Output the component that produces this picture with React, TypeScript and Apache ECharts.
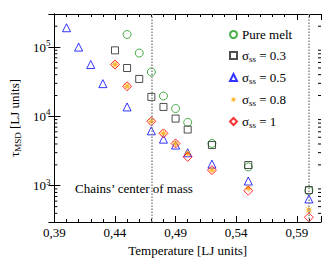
import React, { useEffect, useRef } from "react";
import * as echarts from "echarts";

const X_OFFSET = 0.39;
const X_TICK_LABELS = ["0,39", "0,44", "0,49", "0,54", "0,59"];
const T_MELT = [0.45, 0.46, 0.47, 0.48, 0.49, 0.5, 0.52, 0.55, 0.6];
const TAU_MELT = [152000, 82000, 43700, 19700, 13000, 8200, 4070, 1870, 848];
const T_03 = [0.44, 0.45, 0.46, 0.47, 0.48, 0.49, 0.5, 0.52, 0.55, 0.6];
const TAU_03 = [89700, 49900, 34700, 19100, 13700, 9300, 6470, 3860, 1990, 867];
const T_05 = [0.4, 0.41, 0.42, 0.43, 0.45, 0.47, 0.48, 0.49, 0.5, 0.52, 0.55, 0.6];
const TAU_05 = [190000, 100000, 56000, 29700, 13700, 6200, 4700, 3860, 2990, 2050, 1170, 645];
const T_08 = [0.44, 0.45, 0.47, 0.48, 0.49, 0.5, 0.52, 0.55, 0.6];
const TAU_08 = [56000, 27200, 8500, 5700, 4070, 2920, 1680, 919, 447];
const T_1 = [0.44, 0.45, 0.47, 0.48, 0.49, 0.5, 0.52, 0.55, 0.6];
const TAU_1 = [56000, 27200, 8500, 5700, 4070, 2610, 1680, 848, 351];
const VLINES_T = [0.47, 0.6];

const FONT = "Liberation Serif";

function pts(t: number[], v: number[]) {
  return t.map((x, i) => [+(x - X_OFFSET).toFixed(4), v[i]]);
}

function starPath() {
  const p: string[] = [];
  for (let k = 0; k < 16; k++) {
    const a = (k * Math.PI) / 8 - Math.PI / 2;
    const r = k % 2 === 0 ? 10 : 3.5;
    p.push(`${(10 + r * Math.cos(a)).toFixed(2)} ${(10 + r * Math.sin(a)).toFixed(2)}`);
  }
  return "path://M" + p.join(" L") + " Z";
}

const minorY: number[] = [];
for (let e = 2; e <= 5; e++) {
  for (let m = 2; m <= 9; m++) {
    const v = m * Math.pow(10, e);
    if (v > 300 && v < 300000) minorY.push(v);
  }
}

export default function App() {
  const ref = useRef<HTMLDivElement>(null);
  useEffect(() => {
    if (!ref.current) return;
    const chart = echarts.init(ref.current, null, { renderer: "svg" });
    const xAxisBase = {
      type: "value",
      min: 0,
      max: 0.22,
      interval: 0.05,
      axisLine: { show: true, lineStyle: { color: "#000", width: 1 } },
      axisTick: { show: true, inside: true, length: 6, lineStyle: { color: "#000" } },
      minorTick: { show: true, splitNumber: 5, length: 3, lineStyle: { color: "#000" } },
      splitLine: { show: false },
      minorSplitLine: { show: false },
    };
    const yAxisBase = {
      type: "log",
      logBase: 10,
      min: 300,
      max: 300000,
      axisLine: { show: true, lineStyle: { color: "#000", width: 1 } },
      axisTick: { show: true, inside: true, length: 6, lineStyle: { color: "#000" } },
      splitLine: { show: false },
    };
    const symStyle = (c: string) => ({ color: "rgba(0,0,0,0)", borderColor: c, borderWidth: 1 });
    chart.setOption({
      animation: false,
      backgroundColor: "#fff",
      textStyle: { fontFamily: FONT },
      grid: { left: 54, right: 11, top: 14, bottom: 46 },
      xAxis: [
        {
          ...xAxisBase,
          position: "bottom",
          name: "Temperature [LJ units]",
          nameLocation: "middle",
          nameGap: 14,
          nameTextStyle: { fontFamily: FONT, fontSize: 13, color: "#000" },
          axisLabel: {
            show: true,
            fontFamily: FONT,
            fontSize: 13,
            color: "#000",
            margin: 4,
            showMaxLabel: false,
            formatter: (v: number) => {
              const i = Math.round(v / 0.05);
              return Math.abs(v - i * 0.05) < 1e-6 ? X_TICK_LABELS[i] ?? "" : "";
            },
          },
        },
        { ...xAxisBase, position: "top", axisLabel: { show: false } },
      ],
      yAxis: [
        {
          ...yAxisBase,
          position: "left",
          name: "τ{sub|MSD} [LJ units]",
          nameLocation: "middle",
          nameRotate: 90,
          nameGap: 26,
          nameTextStyle: {
            fontFamily: FONT,
            fontSize: 13,
            color: "#000",
            rich: { sub: { fontFamily: FONT, fontSize: 9, color: "#000", padding: [6, 0, 0, 0] } },
          },
          axisLabel: {
            show: true,
            showMinLabel: false,
            showMaxLabel: false,
            margin: 4,
            fontFamily: FONT,
            fontSize: 13,
            color: "#000",
            formatter: (v: number) => {
              const e = Math.round(Math.log10(v));
              if (Math.abs(Math.log10(v) - e) < 1e-6) return `10{sup|${e}}`;
              return "";
            },
            rich: { sup: { fontFamily: FONT, fontSize: 9, color: "#000", padding: [0, 0, 8, 0] } },
          },
        },
        { ...yAxisBase, position: "right", axisLabel: { show: false } },
      ],
      legend: {
        orient: "vertical",
        left: 224,
        top: 23,
        itemWidth: 7,
        itemHeight: 7,
        itemGap: 8,
        textStyle: {
          fontFamily: FONT,
          fontSize: 13,
          color: "#000",
          rich: { sub: { fontFamily: FONT, fontSize: 9, color: "#000", padding: [6, 0, 0, 0] } },
        },
        data: ["Pure melt", "σ{sub|ss} = 0.3", "σ{sub|ss} = 0.5", "σ{sub|ss} = 0.8", "σ{sub|ss} = 1"],
      },
      graphic: [
        {
          type: "text",
          left: 75,
          top: 182,
          style: { text: "Chains’ center of mass", fontFamily: FONT, fontSize: 13, fill: "#000" },
        },
      ],
      series: [
        {
          type: "custom",
          silent: true,
          xAxisIndex: 0,
          yAxisIndex: 0,
          data: minorY.map((v) => [0, v]),
          renderItem: (params: any, api: any) => {
            const p = api.coord([0, api.value(1)]);
            const cs = params.coordSys;
            const y = p[1];
            return {
              type: "group",
              children: [
                { type: "line", shape: { x1: cs.x, y1: y, x2: cs.x + 3, y2: y }, style: { stroke: "#000", lineWidth: 1 } },
                { type: "line", shape: { x1: cs.x + cs.width - 3, y1: y, x2: cs.x + cs.width, y2: y }, style: { stroke: "#000", lineWidth: 1 } },
              ],
            };
          },
          z: 1,
        },
        {
          name: "Pure melt",
          type: "scatter",
          symbol: "circle",
          symbolSize: 8,
          itemStyle: symStyle("#1a9a1a"),
          data: pts(T_MELT, TAU_MELT),
          markLine: {
            silent: true,
            symbol: ["none", "none"],
            label: { show: false },
            lineStyle: { type: "dotted", color: "#888", width: 1.5 },
            data: VLINES_T.map((t) => ({ xAxis: +(t - X_OFFSET).toFixed(4) })),
          },
        },
        {
          name: "σ{sub|ss} = 0.3",
          type: "scatter",
          symbol: "rect",
          symbolSize: 7,
          itemStyle: symStyle("#222"),
          data: pts(T_03, TAU_03),
        },
        {
          name: "σ{sub|ss} = 0.5",
          type: "scatter",
          symbol: "triangle",
          symbolSize: 8,
          itemStyle: symStyle("#0000ff"),
          data: pts(T_05, TAU_05),
        },
        {
          name: "σ{sub|ss} = 0.8",
          type: "scatter",
          symbol: starPath(),
          symbolSize: 9,
          itemStyle: { color: "#ffa500" },
          data: pts(T_08, TAU_08),
        },
        {
          name: "σ{sub|ss} = 1",
          type: "scatter",
          symbol: "diamond",
          symbolSize: 9,
          itemStyle: symStyle("#ff0000"),
          data: pts(T_1, TAU_1),
        },
      ],
    });
    return () => chart.dispose();
  }, []);
  return <div ref={ref} style={{ position: "fixed", left: 0, top: 0, width: 332, height: 268 }} />;
}
